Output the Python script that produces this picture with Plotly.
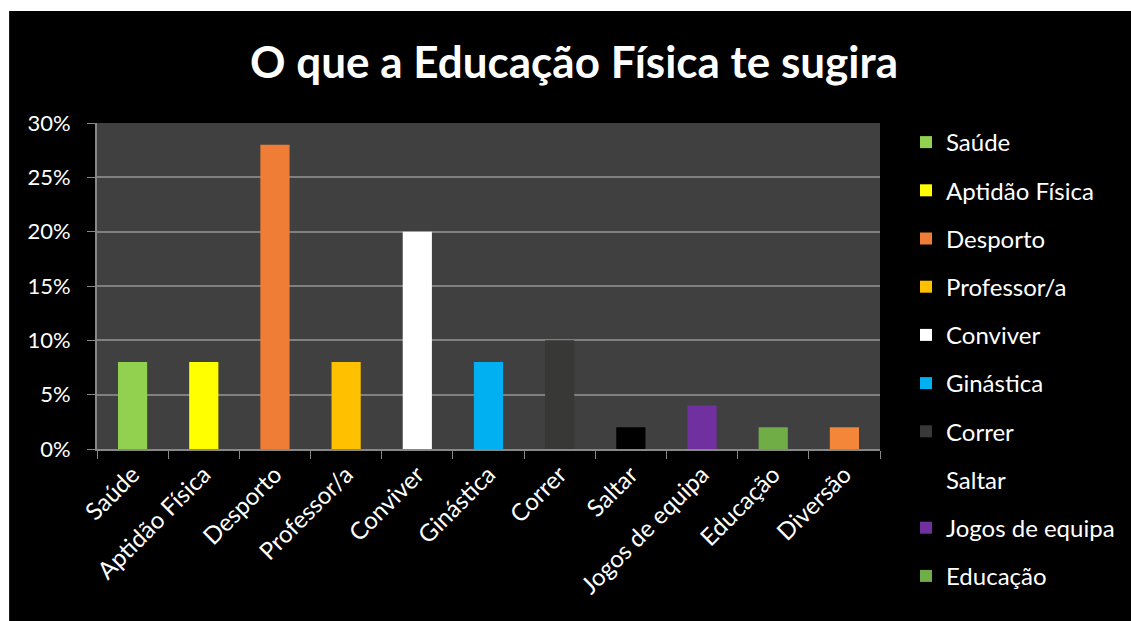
import plotly.graph_objects as go

categories = ["Saúde", "Aptidão Física", "Desporto", "Professor/a", "Conviver",
              "Ginástica", "Correr", "Saltar", "Jogos de equipa", "Educação", "Diversão"]
values = [0.08, 0.08, 0.28, 0.08, 0.20, 0.08, 0.10, 0.02, 0.04, 0.02, 0.02]
colors = ["#92D050", "#FFFF00", "#EF7D35", "#FFC000", "#FFFFFF", "#00B0F0",
          "#383836", "#000000", "#7030A0", "#70AD47", "#F4863A"]
in_legend = [True] * 10 + [False]

FONT = "Lato, 'Open Sans', sans-serif"

fig = go.Figure()
for cat, val, col, leg in zip(categories, values, colors, in_legend):
    fig.add_trace(go.Bar(
        x=[cat], y=[val], name=cat, legendgroup=cat, showlegend=leg,
        marker=dict(color=col, line=dict(width=0)),
        width=0.41,
    ))

W, H = 1131, 621
ml, mr, mt, mb = 97, 250, 123, 172
pw, ph = W - ml - mr, H - mt - mb

def px_x(X):
    return (X - ml) / pw

def px_y(Y):
    return (H - mb - Y) / ph

fig.update_layout(
    width=W, height=H,
    margin=dict(l=ml, r=mr, t=mt, b=mb),
    paper_bgcolor="#000000",
    plot_bgcolor="#404040",
    barmode="overlay",
    font=dict(family=FONT, color="#FFFFFF", size=22),
    title=dict(text="<b>O que a Educação Física te sugira</b>",
               x=574 / W, xanchor="center", y=1 - 63 / H, yanchor="middle",
               font=dict(family=FONT, size=44, color="#FFFFFF")),
    legend=dict(x=px_x(906), xanchor="left", y=px_y(120), yanchor="top",
                font=dict(family=FONT, size=24, color="#FFFFFF"),
                bgcolor="rgba(0,0,0,0)", tracegroupgap=14,
                itemclick=False, maxheight=600),
    xaxis=dict(categoryorder="array", categoryarray=categories,
               tickangle=-45, tickson="boundaries", ticks="outside",
               ticklen=8, tickcolor="#888888", showline=True,
               linecolor="#888888", linewidth=2, showgrid=False,
               tickfont=dict(family=FONT, size=24, color="#FFFFFF"),
               fixedrange=True),
    yaxis=dict(range=[0, 0.30], dtick=0.05, tickformat=".0%",
               ticks="outside", ticklen=8, tickcolor="#888888",
               showline=True, linecolor="#888888", linewidth=2,
               gridcolor="#808080", gridwidth=2, zeroline=False,
               ticklabelstandoff=12,
               tickfont=dict(family=FONT, size=22, color="#FFFFFF"),
               fixedrange=True),
    shapes=[
        dict(type="rect", xref="paper", yref="paper", layer="above",
             x0=px_x(-5), x1=px_x(W + 5), y0=px_y(11), y1=px_y(-5),
             fillcolor="#FFFFFF", line=dict(width=0)),
        dict(type="rect", xref="paper", yref="paper", layer="above",
             x0=px_x(-5), x1=px_x(9), y0=px_y(H + 5), y1=px_y(-5),
             fillcolor="#FFFFFF", line=dict(width=0)),
    ],
)

fig.write_html(
    "out.html",
    config={"displayModeBar": False},
    post_script="document.body.style.margin='0';document.body.style.overflow='hidden';",
)
